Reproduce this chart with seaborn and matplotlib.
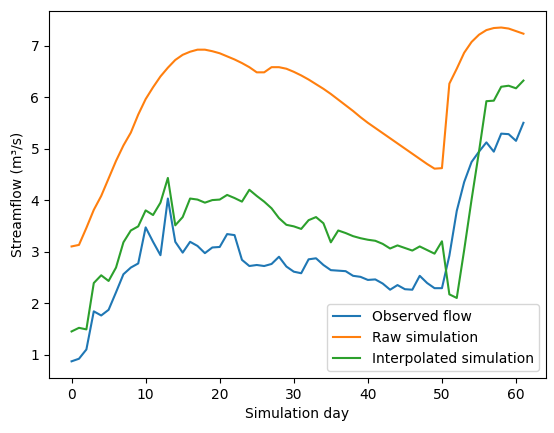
import matplotlib
matplotlib.use("Agg")
import matplotlib.pyplot as plt
import seaborn as sns
import numpy as np

days = list(range(62))

observed = [0.87, 0.92, 1.10, 1.84, 1.76, 1.87, 2.21, 2.56, 2.69, 2.77,
            3.47, 3.19, 2.93, 4.03, 3.19, 2.98, 3.19, 3.11, 2.97, 3.08,
            3.09, 3.34, 3.32, 2.84, 2.72, 2.74, 2.72, 2.76, 2.90, 2.71,
            2.61, 2.58, 2.85, 2.87, 2.74, 2.64, 2.63, 2.62, 2.53, 2.51,
            2.45, 2.46, 2.38, 2.26, 2.35, 2.27, 2.26, 2.53, 2.39, 2.29,
            2.29, 2.92, 3.79, 4.35, 4.74, 4.94, 5.12, 4.94, 5.29, 5.28,
            5.15, 5.50]

raw_sim = [3.10, 3.13, 3.46, 3.81, 4.08, 4.42, 4.76, 5.06, 5.31, 5.66,
           5.96, 6.19, 6.40, 6.57, 6.72, 6.82, 6.88, 6.92, 6.92, 6.89,
           6.85, 6.79, 6.73, 6.66, 6.58, 6.48, 6.48, 6.58, 6.58, 6.55,
           6.49, 6.42, 6.34, 6.25, 6.16, 6.06, 5.95, 5.84, 5.73, 5.61,
           5.50, 5.40, 5.30, 5.20, 5.10, 5.00, 4.90, 4.80, 4.70, 4.61,
           4.62, 6.26, 6.55, 6.86, 7.07, 7.21, 7.30, 7.34, 7.35, 7.33,
           7.28, 7.23]

interp_sim = [1.45, 1.52, 1.49, 2.39, 2.54, 2.43, 2.69, 3.18, 3.41, 3.49,
              3.80, 3.71, 3.95, 4.43, 3.51, 3.67, 4.03, 4.01, 3.95, 4.00,
              4.01, 4.10, 4.04, 3.97, 4.20, 4.08, 3.97, 3.84, 3.65, 3.52,
              3.49, 3.44, 3.61, 3.67, 3.55, 3.18, 3.41, 3.36, 3.30, 3.26,
              3.23, 3.21, 3.15, 3.06, 3.12, 3.07, 3.02, 3.10, 3.03, 2.96,
              3.20, 2.17, 2.10, 3.03, 4.01, 4.94, 5.92, 5.93, 6.20, 6.22,
              6.17, 6.32]

series_labels = ["Observed flow", "Raw simulation", "Interpolated simulation"]

fig, ax = plt.subplots(figsize=(5.54, 4.33), dpi=100)
fig.subplots_adjust(left=0.0884, right=0.9856, top=0.975, bottom=0.127)

colors = ["#1f77b4", "#ff7f0e", "#2ca02c"]
for vals, lab, col in zip([observed, raw_sim, interp_sim], series_labels, colors):
    sns.lineplot(x=days, y=vals, ax=ax, label=lab, color=col, linewidth=1.5)

ax.set_xlabel("Simulation day")
ax.set_ylabel("Streamflow (m³/s)")
ax.set_xticks([0, 10, 20, 30, 40, 50, 60])
ax.set_yticks([1, 2, 3, 4, 5, 6, 7])
ax.legend(loc="lower right")

fig.savefig("out.png", dpi=100)
